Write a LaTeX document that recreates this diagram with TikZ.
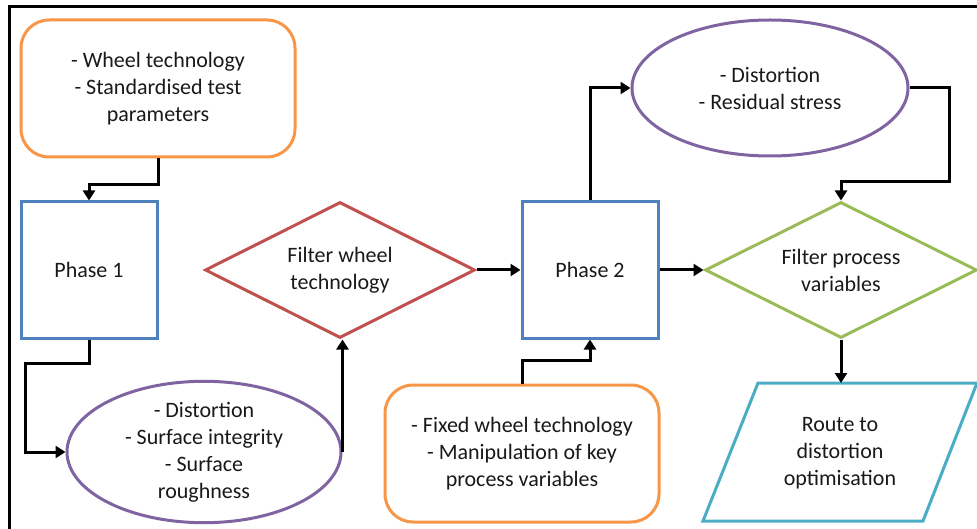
\documentclass[tikz,border=0pt]{standalone}
\usepackage{fontspec}
\setmainfont{Carlito}
\usetikzlibrary{shapes.geometric,arrows.meta}
\definecolor{cOrange}{HTML}{F79646}
\definecolor{cBlue}{HTML}{4F81BD}
\definecolor{cRed}{HTML}{C0504D}
\definecolor{cGreen}{HTML}{9BBB59}
\definecolor{cPurple}{HTML}{8064A2}
\definecolor{cTeal}{HTML}{4BACC6}
\tikzset{
  base/.style={line width=3pt, align=center, inner sep=0pt, font=\fontsize{22}{27}\selectfont, text=black!90},
  inbox/.style={base, draw=cOrange, rectangle, rounded corners=28pt, minimum width=274pt, minimum height=137pt},
  phasebox/.style={base, draw=cBlue, rectangle, minimum width=136pt, minimum height=136pt},
  outell/.style={base, draw=cPurple, ellipse, minimum width=274pt, minimum height=137pt},
  filt/.style={base, diamond, aspect=2, minimum width=270pt, minimum height=136pt},
  arr/.style={line width=3pt, -{Triangle[length=10pt,width=12pt]}},
}
\begin{document}
\begin{tikzpicture}[x=1pt,y=-1pt]
\useasboundingbox (0,0) rectangle (977,529);
% frame
\draw[line width=3pt] (9,529) -- (9,7) -- (977,7);
% nodes
\node[inbox] (top) at (158,88.5) {- Wheel technology\\- Standardised test\\parameters};
\node[phasebox] (ph1) at (89,270) {Phase 1};
\node[outell] (ell1) at (204,452) {- Distortion\\- Surface integrity\\- Surface\\roughness};
\node[filt, draw=cRed] (fwt) at (340,270) {Filter wheel\\technology};
\node[phasebox] (ph2) at (590,270) {Phase 2};
\node[outell, minimum width=276pt, minimum height=136pt] (ell2) at (770,88) {- Distortion\\- Residual stress};
\node[filt, draw=cGreen, minimum width=272pt] (fpv) at (841,270) {Filter process\\variables};
\node[inbox] (bot) at (522,453.5) {- Fixed wheel technology\\- Manipulation of key\\process variables};
\node[base] (route) at (840,453) {Route to\\distortion\\optimisation};
\coordinate (routetop) at (841,383);
\draw[line width=3pt, draw=cTeal, line join=miter] (758,383) -- (977,383) -- (923,521) -- (703,521) -- cycle;
% connectors
\draw[arr] (top.south) -- ++(0,26) -| (ph1.north);
\draw[arr] (ph1.south) -- ++(0,24) -- ++(-64,0) |- (ell1.west);
\draw[arr] (ell1.east) -- (ell1.east |- fwt.south);
\draw[arr] (fwt.east) -- (ph2.west);
\draw[arr] (ph2.north) |- (ell2.west);
\draw[arr] (ell2.east) -- ++(40,0) -- ++(0,94) -| (fpv.north);
\draw[arr] (ph2.east) -- (fpv.west);
\draw[arr] (fpv.south) -- (routetop);
\draw[arr] (bot.north) -- ++(0,-23) -| (ph2.south);
\end{tikzpicture}
\end{document}
